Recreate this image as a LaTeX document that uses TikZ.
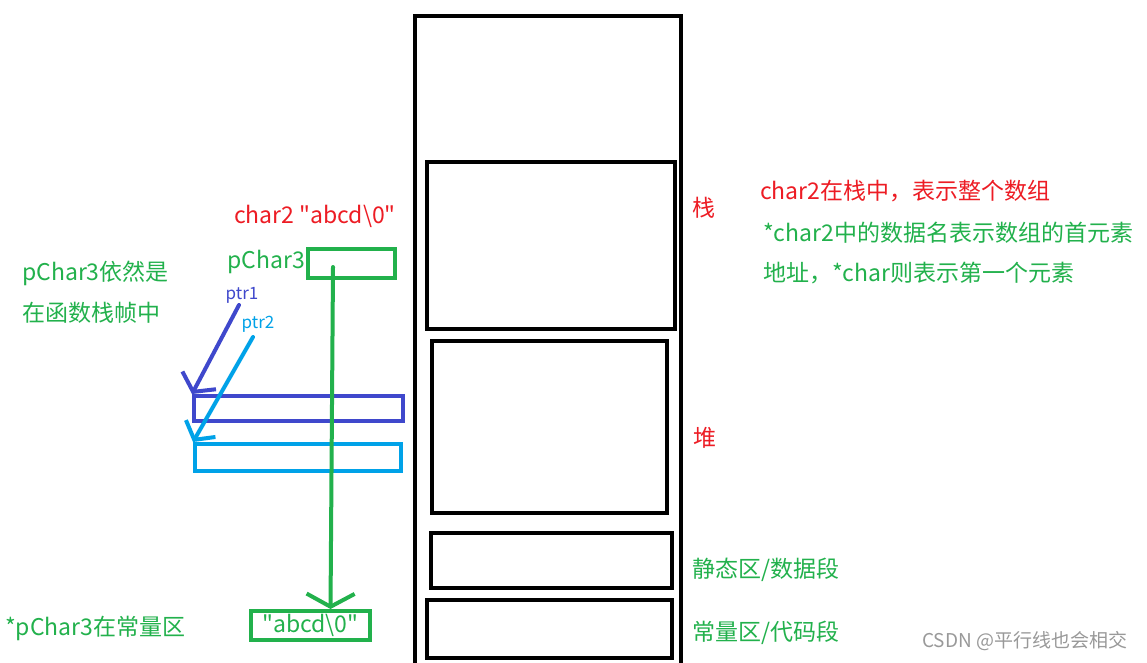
\documentclass[tikz,border=0pt]{standalone}
\usepackage{fontspec}
\newfontfamily\yahei{Noto Sans CJK SC}
\usetikzlibrary{arrows.meta}
\definecolor{pred}{HTML}{ED1C24}
\definecolor{pgreen}{HTML}{22B14C}
\definecolor{pblue}{HTML}{3F48CC}
\definecolor{pcyan}{HTML}{00A2E8}
\definecolor{wmark}{HTML}{999999}
\tikzset{
  mem/.style={draw,line width=4pt,inner sep=0pt},
  lbl/.style={inner sep=0pt,font=\yahei\fontsize{23}{27}\selectfont},
  small/.style={inner sep=0pt,font=\yahei\fontsize{17}{20}\selectfont},
  barb/.style={line width=4pt,line cap=round,line join=round,-{Straight Barb[length=13pt,width=#1]}}
}
\begin{document}
\begin{tikzpicture}[x=1pt,y=-1pt]
\fill[white] (0,0) rectangle (1147,662);
\useasboundingbox (0,0) rectangle (1147,662);
% memory layout
\node[mem,minimum width=266pt,minimum height=664pt] (all) at (548,348) {};
\node[mem,minimum width=248pt,minimum height=167pt] (stack) at (551,245.5) {};
\node[mem,minimum width=235pt,minimum height=172pt] (heap) at (549.5,427) {};
\node[mem,minimum width=241pt,minimum height=55pt] (static) at (551.5,560.5) {};
\node[mem,minimum width=245pt,minimum height=58pt] (const) at (549.5,629) {};
\node[lbl,text=pred] (lstack) at (704,208) {栈};
\node[lbl,text=pred] (lheap) at (705,438) {堆};
\node[lbl,text=pgreen,anchor=west] (lstatic) at (692,570) {静态区/数据段};
\node[lbl,text=pgreen,anchor=west] (lconst) at (692,633) {常量区/代码段};
% notes on the right
\node[lbl,text=pred,anchor=west] (n1) at (760,191) {char2在栈中，表示整个数组};
\node[lbl,text=pgreen,anchor=west] (n2) at (763,233) {*char2中的数据名表示数组的首元素};
\node[lbl,text=pgreen,anchor=west] (n3) at (763,273) {地址，*char则表示第一个元素};
% pointers
\node[lbl,text=pred] (arr) at (315,216) {char2 "abcd\textbackslash 0"};
\node[mem,draw=pgreen,minimum width=87pt,minimum height=29pt] (pc3) at (351.5,263.5) {};
\node[lbl,text=pgreen] (lpc3) at (266,262) {pChar3};
\node[mem,draw=pblue,minimum width=209pt,minimum height=25pt] (b1) at (298.5,408.5) {};
\node[mem,draw=pcyan,minimum width=206pt,minimum height=27pt] (b2) at (298,457.5) {};
\node[small,text=pblue] (lp1) at (242,295) {ptr1};
\node[small,text=pcyan] (lp2) at (258,324) {ptr2};
\coordinate (p1) at (239,305);
\coordinate (p2) at (253,337);
\draw[barb=38pt,pblue] (p1) -- (b1.north west);
\draw[barb=34pt,pcyan] (p2) -- (b2.north west);
\node[lbl,text=pgreen,anchor=west] (t1) at (22,273) {pChar3依然是};
\node[lbl,text=pgreen,anchor=west] (t2) at (22,313) {在函数栈帧中};
% string literal
\node[mem,draw=pgreen,text=pgreen,minimum width=119pt,minimum height=29pt,font=\yahei\fontsize{23}{27}\selectfont] (str) at (310.5,625.5) {"abcd\textbackslash 0"};
\node[lbl,text=pgreen,anchor=west] (t3) at (5,628) {*pChar3在常量区};
\coordinate (g0) at (333,267);
\coordinate (g1) at ([xshift=20pt]str.north);
\draw[barb=48pt,pgreen] (g0) -- (g1);
\node[inner sep=0pt,text=wmark,anchor=west,font=\yahei\fontsize{19}{22}\selectfont] (wm) at (922,641) {CSDN @平行线也会相交};
\end{tikzpicture}
\end{document}
